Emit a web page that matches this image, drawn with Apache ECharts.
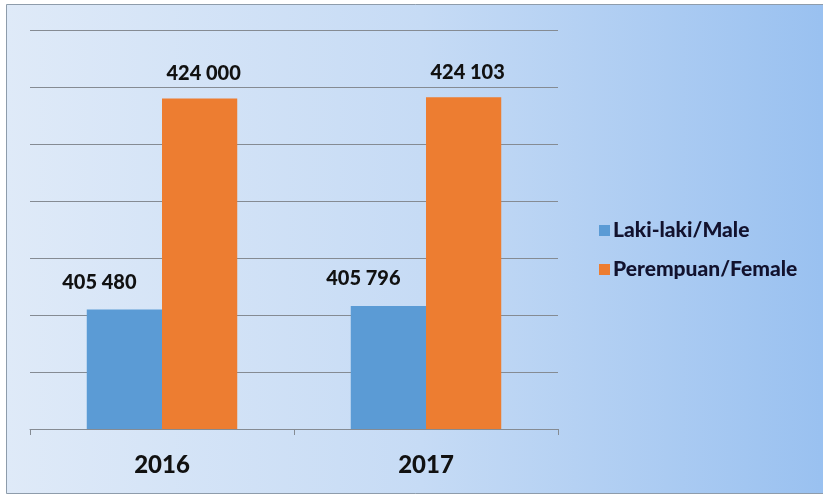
<!DOCTYPE html>
<html><head><meta charset="utf-8">
<script src="https://cdn.jsdelivr.net/npm/echarts@6/dist/echarts.min.js"></script>
<style>html,body{margin:0;padding:0;background:#fff}#c{width:823px;height:496px}</style>
</head><body><div id="c"></div>
<script>
const categories = ['2016', '2017'];
const maleValues = [405480, 405796];
const femaleValues = [424000, 424103];
const seriesNames = ['Laki-laki/Male', 'Perempuan/Female'];

const chart = echarts.init(document.getElementById('c'));
const fmt = v => String(v).replace(/\B(?=(\d{3})+(?!\d))/g, ' ');
const labelStyle = {show: true, position: 'top', distance: 15, fontFamily: 'Lato', fontWeight: 900, fontSize: 20, color: '#111', formatter: p => fmt(p.value)};
chart.setOption({
  backgroundColor: '#ffffff',
  animation: false,
  graphic: [{
    type: 'rect', z: -10, silent: true,
    shape: {x: 6.5, y: 4.5, width: 830, height: 489},
    style: {
      fill: new echarts.graphic.LinearGradient(0, 0, 1, 0, [
        {offset: 0, color: '#dfeaf8'},
        {offset: 0.5, color: '#c6dbf5'},
        {offset: 1, color: '#98c0f0'}
      ]),
      stroke: '#8e9cab', lineWidth: 1
    }
  }],
  grid: {left: 30, right: 265, top: 30, bottom: 67},
  legend: {
    orient: 'vertical', left: 594, top: 215, itemGap: 18,
    itemWidth: 11, itemHeight: 11, icon: 'rect',
    textStyle: {fontFamily: 'Lato', fontWeight: 900, fontSize: 21, color: '#12122e', padding: [0, 0, 0, -2]},
    data: seriesNames
  },
  xAxis: {
    type: 'category', data: categories,
    axisLine: {lineStyle: {color: '#858b93', width: 1}},
    axisTick: {show: true, length: 6, lineStyle: {color: '#858b93'}},
    axisLabel: {fontFamily: 'Lato', fontWeight: 900, fontSize: 24, color: '#111', margin: 24}
  },
  yAxis: {
    type: 'value', min: 395000, max: 430000, interval: 5000,
    axisLine: {show: false}, axisTick: {show: false}, axisLabel: {show: false},
    splitLine: {lineStyle: {color: '#858b93', width: 1}}
  },
  series: [
    {name: seriesNames[0], type: 'bar', data: maleValues, barGap: '0%', barCategoryGap: '43%', itemStyle: {color: '#5b9bd5'}, label: Object.assign({}, labelStyle, {distance: 17, offset: [-25, 0]})},
    {name: seriesNames[1], type: 'bar', data: femaleValues, itemStyle: {color: '#ed7d31'}, label: Object.assign({}, labelStyle, {offset: [4, 0]})}
  ]
});
</script></body></html>
